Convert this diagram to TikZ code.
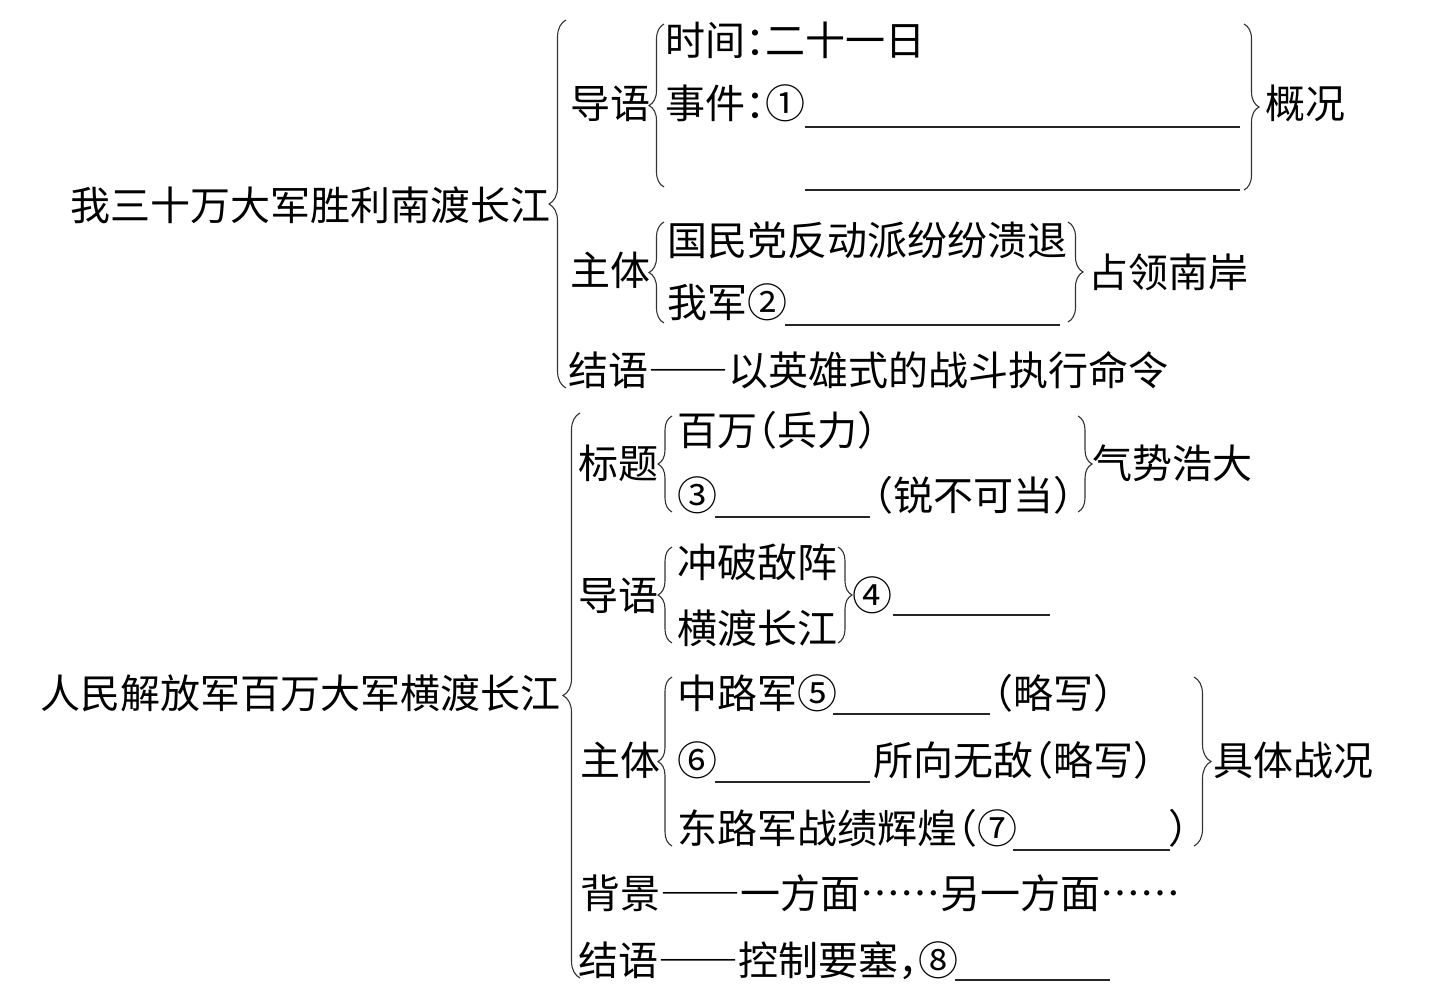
\documentclass[tikz,border=0pt]{standalone}
\usepackage{fontspec}
\setmainfont{Noto Sans CJK SC}[RawFeature=+halt]
\newfontfamily\ellfont{Noto Sans CJK SC}[Language=Chinese Simplified,RawFeature=+fwid]
\usetikzlibrary{decorations.pathreplacing}
\tikzset{
  txt/.style={anchor=west,inner sep=0pt,font=\fontsize{40}{40}\selectfont,text height=35pt,text depth=5pt},
  brc/.style={decorate,decoration={brace,amplitude=#1},line width=1.1pt,draw=black!80},
  brc/.default=15pt,
  blank/.style={line width=1.3pt,draw=black!85}
}
\newcommand\myellip{{\ellfont ……}}
\newcommand\mydash{{\ellfont ——}}
\begin{document}
\begin{tikzpicture}[x=1pt,y=-1pt]
\useasboundingbox[fill=white] (0,0) rectangle (1447,1002);
% ---------- section 1 ----------
\node[txt] (t1) at (70,205) {我三十万大军胜利南渡长江};
\coordinate (b1t) at (566,20); \coordinate (b1b) at (566,388);
\draw[brc=17pt] (b1b) -- (b1t);
\node[txt] (dy1) at (570,103) {导语};
\coordinate (b2t) at (664,24); \coordinate (b2b) at (664,187);
\draw[brc] (b2b) -- (b2t);
\node[txt] (sj) at (665,40) {时间：二十一日};
\node[txt] (ev) at (665,103) {事件：①};
\coordinate (u1a) at (805,127); \coordinate (u1b) at (1240,127);
\draw[blank] (u1a) -- (u1b);
\coordinate (u1c) at (805,190); \coordinate (u1d) at (1240,190);
\draw[blank] (u1c) -- (u1d);
\coordinate (b3t) at (1244,24); \coordinate (b3b) at (1244,190);
\draw[brc] (b3t) -- (b3b);
\node[txt] (gk) at (1265,103) {概况};
\node[txt] (zt1) at (570,270) {主体};
\coordinate (b4t) at (664,222); \coordinate (b4b) at (664,323);
\draw[brc] (b4b) -- (b4t);
\node[txt] (gm) at (667,240) {国民党反动派纷纷溃退};
\node[txt] (wj) at (667,302) {我军②};
\coordinate (u2a) at (785,325); \coordinate (u2b) at (1060,325);
\draw[blank] (u2a) -- (u2b);
\coordinate (b5t) at (1068,222); \coordinate (b5b) at (1068,322);
\draw[brc] (b5t) -- (b5b);
\node[txt] (zl) at (1088,272) {占领南岸};
\node[txt] (jy1) at (568,370) {结语\mydash 以英雄式的战斗执行命令};
% ---------- section 2 ----------
\node[txt] (t2) at (40,693) {人民解放军百万大军横渡长江};
\coordinate (b6t) at (580,413); \coordinate (b6b) at (580,978);
\draw[brc=17pt] (b6b) -- (b6t);
\node[txt] (bt) at (578,463) {标题};
\coordinate (b7t) at (672,416); \coordinate (b7b) at (672,512);
\draw[brc=14pt] (b7b) -- (b7t);
\node[txt] (bw) at (677,430) {百万（兵力）};
\node[txt] (c3) at (677,495) {③};
\coordinate (u3a) at (715,517); \coordinate (u3b) at (870,517);
\draw[blank] (u3a) -- (u3b);
\node[txt] (rb) at (873,495) {（锐不可当）};
\coordinate (b8t) at (1078,416); \coordinate (b8b) at (1078,512);
\draw[brc=14pt] (b8t) -- (b8b);
\node[txt] (qs) at (1092,463) {气势浩大};
\node[txt] (dy2) at (578,595) {导语};
\coordinate (b9t) at (672,547); \coordinate (b9b) at (672,643);
\draw[brc=14pt] (b9b) -- (b9t);
\node[txt] (cp) at (677,562) {冲破敌阵};
\node[txt] (hd) at (677,628) {横渡长江};
\coordinate (b10t) at (838,547); \coordinate (b10b) at (838,643);
\draw[brc=14pt] (b10t) -- (b10b);
\node[txt] (c4) at (852,595) {④};
\coordinate (u4a) at (893,615); \coordinate (u4b) at (1050,615);
\draw[blank] (u4a) -- (u4b);
\node[txt] (zt2) at (580,760) {主体};
\coordinate (b11t) at (672,677); \coordinate (b11b) at (672,846);
\draw[brc=14pt] (b11b) -- (b11t);
\node[txt] (zlj) at (677,693) {中路军⑤};
\coordinate (u5a) at (833,714); \coordinate (u5b) at (990,714);
\draw[blank] (u5a) -- (u5b);
\node[txt] (lx1) at (993,693) {（略写）};
\node[txt] (c6) at (677,760) {⑥};
\coordinate (u6a) at (715,782); \coordinate (u6b) at (870,782);
\draw[blank] (u6a) -- (u6b);
\node[txt] (sx) at (873,760) {所向无敌（略写）};
\node[txt] (dlj) at (677,828) {东路军战绩辉煌（⑦};
\coordinate (u7a) at (1013,850); \coordinate (u7b) at (1170,850);
\draw[blank] (u7a) -- (u7b);
\node[txt] (rp) at (1168,828) {）};
\coordinate (b12t) at (1194,677); \coordinate (b12b) at (1194,846);
\draw[brc=17pt] (b12t) -- (b12b);
\node[txt] (jt) at (1213,760) {具体战况};
\node[txt] (bj) at (580,893) {背景\mydash 一方面\myellip 另一方面\myellip};
\node[txt] (jy2) at (578,960) {结语\mydash 控制要塞，⑧};
\coordinate (u8a) at (955,980); \coordinate (u8b) at (1110,980);
\draw[blank] (u8a) -- (u8b);
\end{tikzpicture}
\end{document}
